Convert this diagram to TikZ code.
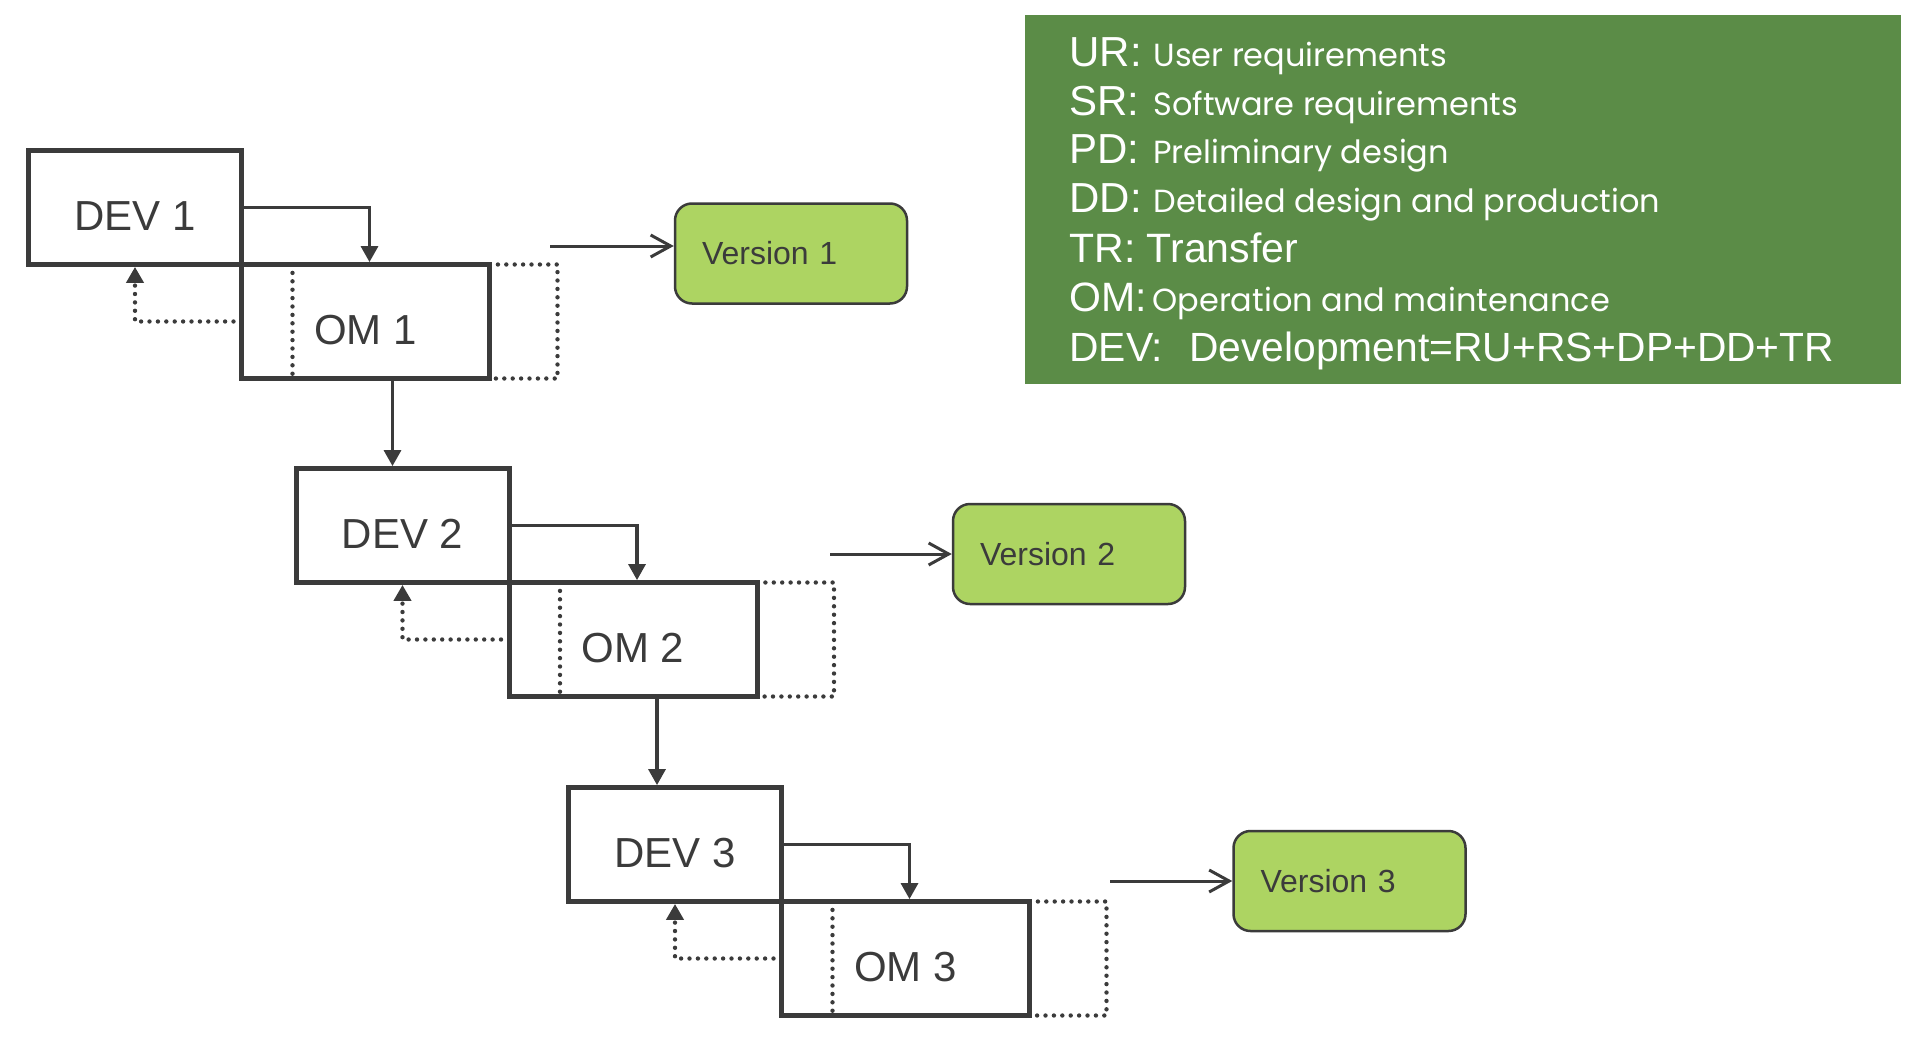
\documentclass[tikz,border=0pt]{standalone}
\usepackage{fontspec}
\setmainfont{Liberation Sans}
\newfontfamily\geofont{Poppins}
\usetikzlibrary{arrows.meta,calc}
\definecolor{ink}{RGB}{59,59,59}
\definecolor{legendgreen}{RGB}{91,140,71}
\definecolor{versiongreen}{RGB}{173,212,98}
\tikzset{
  stagebox/.style={draw=ink, line width=2.5pt, rectangle, inner sep=0pt, outer sep=0pt,
    minimum height=57pt, text=ink, font=\fontsize{21}{25}\selectfont,
    text height=22.5pt, text depth=0pt},
  devbox/.style={stagebox, minimum width=106.5pt},
  ombox/.style={stagebox, minimum width=124pt, anchor=north west},
  verbox/.style={draw=ink, line width=1.25pt, fill=versiongreen, rounded corners=8.5pt,
    minimum height=50pt, inner xsep=13.5pt, text width=89pt, align=left, text=ink,
    font=\fontsize{16}{19}\selectfont},
  flow/.style={draw=ink, line width=1.6pt, -{Triangle[width=8.5pt,length=8pt]}, shorten >=1.2pt},
  dotline/.style={draw=ink, line width=2.2pt, line cap=round, dash pattern=on 0pt off 4.2pt},
  dotflow/.style={dotline, -{Triangle[width=8.5pt,length=8pt]}, shorten >=1.2pt},
  relay/.style={draw=ink, line width=1.5pt, -{Straight Barb[length=10pt,width=11pt]}},
  legend/.style={text=white, anchor=base west, inner sep=0pt},
  legendkey/.style={legend, font=\fontsize{21}{25}\selectfont},
  legendtext/.style={legend, font=\geofont\fontsize{16}{19}\selectfont}
}
\begin{document}
\begin{tikzpicture}[x=0.5pt, y=-0.5pt]
  \useasboundingbox (0,0) rectangle (1910,1060);

  % legend
  \fill[legendgreen] (1025,14.6) rectangle (1901,383.5);
  \node[legendkey] (urkey) at (1069,66.7) {UR:};
  \node[legendtext] (urtext) at (1153,66.7) {User requirements};
  \node[legendkey] (srkey) at (1069,115) {SR:};
  \node[legendtext] (srtext) at (1153,115) {Software requirements};
  \node[legendkey] (pdkey) at (1069,163.5) {PD:};
  \node[legendtext] (pdtext) at (1153,163.5) {Preliminary design};
  \node[legendkey] (ddkey) at (1069,212.5) {DD:};
  \node[legendtext] (ddtext) at (1153,212.5) {Detailed design and production};
  \node[legendkey, font=\fontsize{20.5}{24}\selectfont] (trkey) at (1069,262) {TR: Transfer};
  \node[legendkey, font=\fontsize{20.5}{24}\selectfont] (omkey) at (1069,311.5) {OM:};
  \node[legendtext] (omtext) at (1152,311.5) {Operation and maintenance};
  \node[legendkey, font=\fontsize{20.4}{24}\selectfont] (devkey) at (1069,361) {DEV:\hspace{13pt}Development=RU+RS+DP+DD+TR};

  % stages
  \node[devbox] (dev1) at (135,207.5) {DEV 1};
  \node[ombox] (om1) at (dev1.south east) {OM 1};
  \node[devbox] (dev2) at (402.5,525.5) {DEV 2};
  \node[ombox] (om2) at (dev2.south east) {OM 2};
  \node[devbox] (dev3) at (675,844.5) {DEV 3};
  \node[ombox] (om3) at (dev3.south east) {OM 3};

  \node[verbox] (ver1) at (791,253.5) {Version 1};
  \node[verbox] (ver2) at (1069,554) {Version 2};
  \node[verbox] (ver3) at (1349.5,881) {Version 3};

  % dotted parts of the OM boxes
  \draw[dotline] ($(om1.north west)+(51,0)$) -- ($(om1.south west)+(51,0)$);
  \draw[dotline] ($(om2.north west)+(51,0)$) -- ($(om2.south west)+(51,0)$);
  \draw[dotline] ($(om3.north west)+(51,0)$) -- ($(om3.south west)+(51,0)$);
  \draw[dotline] (om1.north east) -- ++(68,0) |- (om1.south east);
  \draw[dotline] (om2.north east) -- ++(77,0) |- (om2.south east);
  \draw[dotline] (om3.north east) -- ++(77,0) |- (om3.south east);

  % connectors
  \draw[flow] (dev1.east) -| ($(om1.north)+(4,0)$);
  \draw[flow] (dev2.east) -| ($(om2.north)+(4,0)$);
  \draw[flow] (dev3.east) -| ($(om3.north)+(4,0)$);
  \draw[dotflow] ($(om1.west)+(-8,0)$) -| (dev1.south);
  \draw[dotflow] ($(om2.west)+(-8,0)$) -| (dev2.south);
  \draw[dotflow] ($(om3.west)+(-8,0)$) -| (dev3.south);

  \coordinate (down1) at ($(om1.south west)+(151,0)$);
  \coordinate (down2) at ($(om2.south west)+(148,0)$);
  \draw[flow] (down1) -- (down1 |- dev2.north);
  \draw[flow] (down2) -- (down2 |- dev3.north);

  \coordinate (rel1) at (550,246);
  \coordinate (rel2) at (830,554);
  \coordinate (rel3) at (1110,881);
  \draw[relay] (rel1) -- (rel1 -| ver1.west);
  \draw[relay] (rel2) -- (rel2 -| ver2.west);
  \draw[relay] (rel3) -- (rel3 -| ver3.west);
\end{tikzpicture}
\end{document}
